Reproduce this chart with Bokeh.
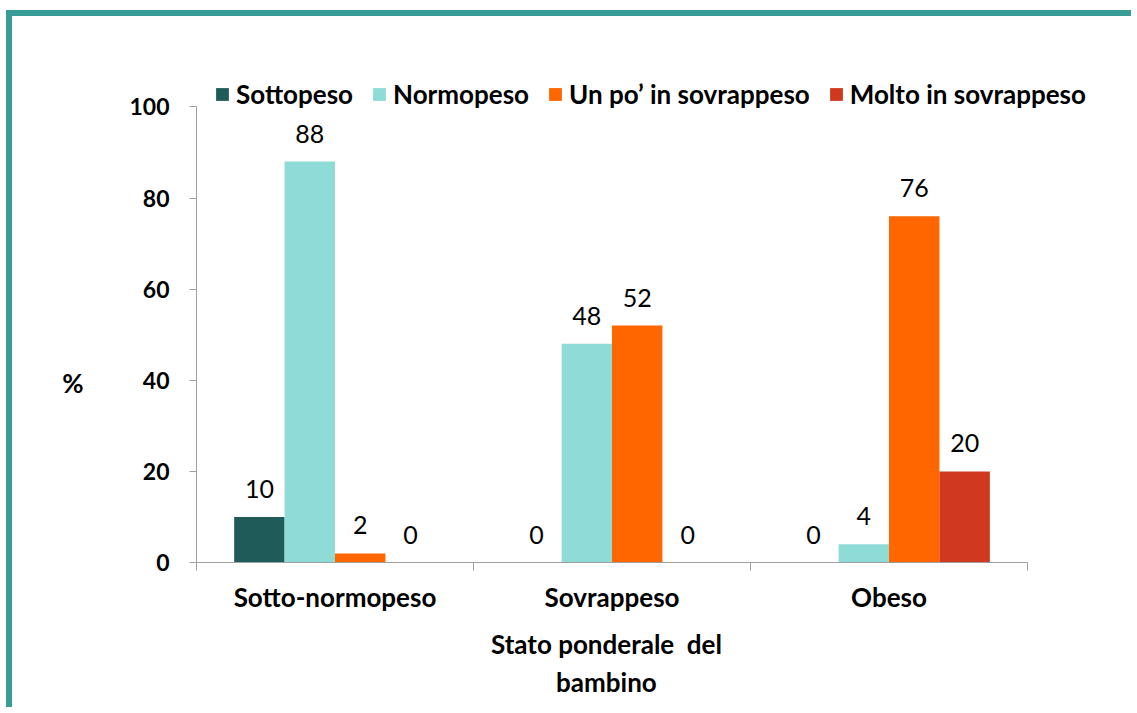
from bokeh.plotting import figure
from bokeh.models import (Range1d, FixedTicker, Legend, LegendItem, ColumnDataSource, LabelSet,
                          LinearAxis)
from bokeh.core.properties import value
from bokeh.transform import dodge
from bokeh.embed import file_html
from bokeh.resources import INLINE

categories = ["Sotto-normopeso", "Sovrappeso", "Obeso"]
series = ["Sottopeso", "Normopeso", "Un po\u2019 in sovrappeso", "Molto in sovrappeso"]
sottopeso = [10, 0, 0]
normopeso = [88, 48, 4]
un_po_sovrappeso = [2, 52, 76]
molto_sovrappeso = [0, 0, 20]
colors = ["#1f5c59", "#8fdbd8", "#ff6600", "#d0391f"]
y_ticks = [0, 20, 40, 60, 80, 100]
x_title = "Stato ponderale\u00a0 del\nbambino"
y_title = "%"

FONT = "Lato"
W, H = 1125, 697
FRAME = "#3a9c96"
AXIS = "#a0a0a0"

p = figure(width=W, height=H, output_backend="svg", toolbar_location=None,
           x_range=Range1d(0, 3.379), y_range=Range1d(0, 108),
           min_border_left=184, min_border_right=5, min_border_top=54, min_border_bottom=151)
p.styles = {"border-left": "6px solid " + FRAME, "border-top": "6px solid " + FRAME,
            "margin-left": "6px", "margin-top": "10px"}
p.outline_line_color = None
p.xgrid.visible = False
p.ygrid.visible = False
p.background_fill_color = "white"
p.border_fill_color = "white"

xs = [i + 0.5 for i in range(len(categories))]
src = ColumnDataSource(dict(x=xs, s0=sottopeso, s1=normopeso, s2=un_po_sovrappeso, s3=molto_sovrappeso,
                            l0=[str(v) for v in sottopeso], l1=[str(v) for v in normopeso],
                            l2=[str(v) for v in un_po_sovrappeso], l3=[str(v) for v in molto_sovrappeso]))
offsets = [-0.273, -0.091, 0.091, 0.273]
bw = 0.182
items = []
for k in range(4):
    r = p.vbar(x=dodge("x", offsets[k], range=p.x_range), top="s%d" % k, width=bw, source=src,
               fill_color=colors[k], line_color=None)
    items.append(LegendItem(label=series[k], renderers=[r]))
    p.add_layout(LabelSet(x=dodge("x", offsets[k], range=p.x_range), y="s%d" % k, text="l%d" % k,
                          source=src, text_align="center", text_baseline="middle", y_offset=28,
                          text_font=value(FONT), text_font_size="25px", text_color="black"))

legend = Legend(items=items, orientation="horizontal", location=(18, 452),
                glyph_width=16, glyph_height=16, label_standoff=6, spacing=18, padding=0, margin=0,
                border_line_color=None, background_fill_alpha=0,
                label_text_font=FONT, label_text_font_size="26px", label_text_font_style="bold",
                label_text_color="black")
p.add_layout(legend)

# y axis
ya = p.yaxis[0]
ya.ticker = FixedTicker(ticks=y_ticks)
ya.bounds = (0, 100)
ya.axis_line_color = AXIS
ya.major_tick_line_color = AXIS
ya.major_tick_out = 7
ya.major_tick_in = 0
ya.minor_tick_line_color = None
ya.major_label_text_font = FONT
ya.major_label_text_font_size = "23px"
ya.major_label_text_font_style = "bold"
ya.major_label_text_color = "black"
ya.major_label_standoff = 20

# y title as a secondary axis label (keeps it horizontal and placed like the original)
yt = LinearAxis(ticker=FixedTicker(ticks=[39.3]), major_label_overrides={39.3: y_title},
                axis_line_color=None, major_tick_line_color=None, minor_tick_line_color=None,
                major_tick_out=0, major_tick_in=0, major_label_standoff=43,
                major_label_text_font=FONT, major_label_text_font_size="26px",
                major_label_text_font_style="bold", major_label_text_color="black")
p.add_layout(yt, "left")

# x axis
xa = p.xaxis[0]
xa.ticker = FixedTicker(ticks=xs, minor_ticks=[0, 1, 2, 3])
xa.bounds = (0, 3)
xa.major_label_overrides = {x: c for x, c in zip(xs, categories)}
xa.axis_line_color = AXIS
xa.major_tick_line_color = None
xa.major_tick_out = 0
xa.major_tick_in = 0
xa.minor_tick_line_color = AXIS
xa.minor_tick_out = 8
xa.minor_tick_in = 0
xa.major_label_text_font = FONT
xa.major_label_text_font_size = "26px"
xa.major_label_text_font_style = "bold"
xa.major_label_text_color = "black"
xa.major_label_standoff = 10

xt = LinearAxis(ticker=FixedTicker(ticks=[1.48]), major_label_overrides={1.48: x_title},
                axis_line_color=None, major_tick_line_color=None, minor_tick_line_color=None,
                major_tick_out=0, major_tick_in=0, major_label_standoff=12,
                major_label_text_font=FONT, major_label_text_font_size="26px",
                major_label_text_font_style="bold", major_label_text_color="black")
p.add_layout(xt, "below")

open("out.html", "w").write(file_html(p, INLINE))
